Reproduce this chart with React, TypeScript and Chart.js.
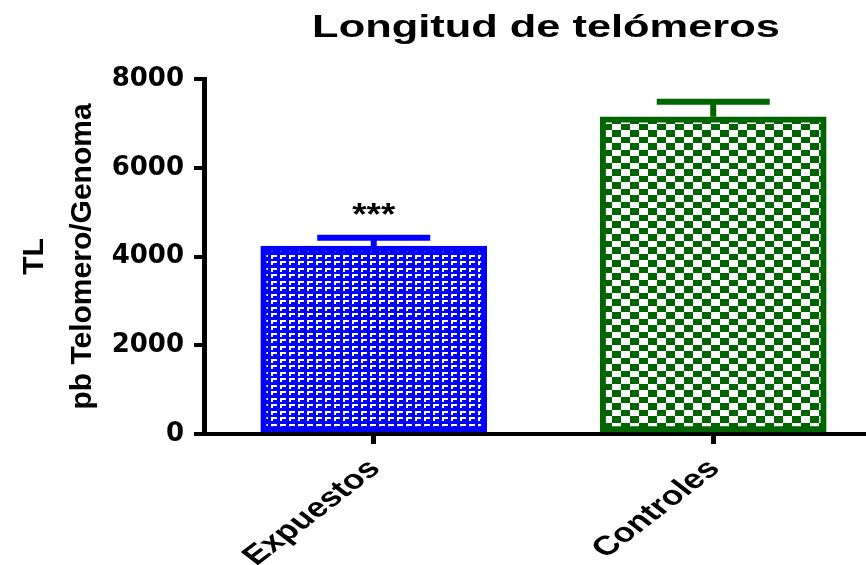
import React, { useEffect, useRef } from 'react';
import { Chart, registerables } from 'chart.js';

Chart.register(...registerables);

const chartTitle = 'Longitud de telómeros';
const categories = ['Expuestos', 'Controles'];
const means = [4235, 7150];
const errorUpper = [4420, 7485];
const significance = ['***', ''];
const yTicks = [0, 2000, 4000, 6000, 8000];
const yTitle = ['TL', 'pb Telomero/Genoma'];
const barColors = ['#0000FF', '#006400'];

const SANS = '"Liberation Sans", Arial, Helvetica, sans-serif';

function makeBrickPattern(ctx: CanvasRenderingContext2D, color: string) {
  const c = document.createElement('canvas');
  c.width = 9;
  c.height = 13;
  const g = c.getContext('2d')!;
  g.fillStyle = color;
  g.fillRect(0, 0, 9, 13);
  g.fillStyle = '#ffffff';
  for (const oy of [0, 7]) {
    g.fillRect(1, oy + 1, 6, 2);
    g.fillRect(1, oy + 1, 2, 4);
  }
  return ctx.createPattern(c, 'repeat')!;
}

function makeCheckerPattern(ctx: CanvasRenderingContext2D, color: string) {
  const c = document.createElement('canvas');
  c.width = 18;
  c.height = 13;
  const g = c.getContext('2d')!;
  g.fillStyle = '#ffffff';
  g.fillRect(0, 0, 18, 13);
  g.fillStyle = color;
  g.fillRect(0, 0, 9, 7);
  g.fillRect(9, 7, 9, 6);
  return ctx.createPattern(c, 'repeat')!;
}

const decorPlugin = {
  id: 'decor',
  afterDatasetsDraw(chart: any) {
    const ctx = chart.ctx as CanvasRenderingContext2D;
    const xs = chart.scales.x;
    const ys = chart.scales.y;
    ctx.save();
    categories.forEach((_, i) => {
      const x = xs.getPixelForValue(i);
      const yBar = ys.getPixelForValue(means[i]);
      const yErr = ys.getPixelForValue(errorUpper[i]);
      ctx.strokeStyle = barColors[i];
      ctx.lineWidth = 6;
      ctx.lineCap = 'butt';
      ctx.beginPath();
      ctx.moveTo(x, yBar);
      ctx.lineTo(x, yErr);
      ctx.moveTo(x - 56.5, yErr);
      ctx.lineTo(x + 56.5, yErr);
      ctx.stroke();
      if (significance[i]) {
        ctx.save();
        ctx.translate(x, yErr - 13);
        ctx.scale(1.15, 1);
        ctx.fillStyle = '#000';
        ctx.font = `bold 32px ${SANS}`;
        ctx.textAlign = 'center';
        ctx.textBaseline = 'alphabetic';
        ctx.fillText(significance[i], 0, 0);
        ctx.restore();
      }
    });
    ctx.restore();
  },
  afterDraw(chart: any) {
    const ctx = chart.ctx as CanvasRenderingContext2D;
    const xs = chart.scales.x;
    const area = chart.chartArea;
    ctx.save();
    ctx.fillStyle = '#000';
    ctx.font = `bold 31px ${SANS}`;
    ctx.textAlign = 'center';
    ctx.textBaseline = 'alphabetic';
    ctx.translate((area.left + area.right) / 2 + 11, 37);
    ctx.scale(1.4, 1);
    ctx.fillText(chartTitle, 0, 0);
    ctx.restore();
    categories.forEach((label, i) => {
      const x = xs.getPixelForValue(i);
      ctx.save();
      ctx.fillStyle = '#000';
      ctx.font = `bold 27px ${SANS}`;
      ctx.textAlign = 'right';
      ctx.textBaseline = 'alphabetic';
      ctx.translate(x + 8, xs.top + 36);
      ctx.scale(1.3, 1);
      ctx.rotate(-Math.PI / 4);
      ctx.fillText(label, 0, 0);
      ctx.restore();
    });
  },
};

export default function App() {
  const ref = useRef<HTMLCanvasElement>(null);

  useEffect(() => {
    const canvas = ref.current!;
    const ctx = canvas.getContext('2d')!;
    const bluePattern = makeBrickPattern(ctx, barColors[0]);
    const greenPattern = makeCheckerPattern(ctx, barColors[1]);

    const chart = new Chart(canvas, {
      type: 'bar',
      data: {
        datasets: [
          {
            data: categories.map((_, i) => ({ x: i, y: means[i] })),
            backgroundColor: [bluePattern, greenPattern],
            borderColor: barColors,
            borderWidth: 6,
            borderSkipped: false,
            barThickness: 226,
          } as any,
        ],
      },
      options: {
        animation: false,
        responsive: false,
        devicePixelRatio: 1,
        layout: { padding: { top: 79, left: 0, right: 0, bottom: 0 } },
        plugins: {
          legend: { display: false },
          tooltip: { enabled: false },
          title: { display: false },
        },
        scales: {
          x: {
            type: 'linear',
            offset: false,
            min: -0.5,
            max: 1.45,
            afterBuildTicks: (s: any) => {
              s.ticks = categories.map((_, i) => ({ value: i }));
            },
            ticks: { display: false },
            grid: {
              offset: false,
              drawOnChartArea: false,
              drawTicks: true,
              tickLength: 10,
              color: '#000',
              lineWidth: 5,
            },
            border: { display: true, color: '#000', width: 4 },
            afterFit: (s: any) => {
              s.height = 131;
            },
          },
          y: {
            min: 0,
            max: 8000,
            afterBuildTicks: (s: any) => {
              s.ticks = yTicks.map((v) => ({ value: v }));
            },
            ticks: {
              color: '#000',
              padding: 10,
              callback: (v: any) => String(v),
              font: { family: '"DejaVu Sans", sans-serif', size: 26, weight: 'bold' },
            },
            grid: {
              drawOnChartArea: false,
              drawTicks: true,
              tickLength: 10,
              color: '#000',
              lineWidth: 4,
            },
            border: { display: true, color: '#000', width: 5 },
            title: {
              display: true,
              text: yTitle,
              color: '#000',
              font: { family: SANS, size: 30, weight: 'bold', lineHeight: '48px' },
              padding: { top: 11, bottom: 0 },
            },
            afterFit: (s: any) => {
              s.width = 204;
            },
          },
        },
      } as any,
      plugins: [decorPlugin],
    });
    return () => chart.destroy();
  }, []);

  return (
    <div style={{ position: 'absolute', left: 0, top: 0, width: 866, height: 565, background: '#fff' }}>
      <canvas ref={ref} width={866} height={565} />
    </div>
  );
}
